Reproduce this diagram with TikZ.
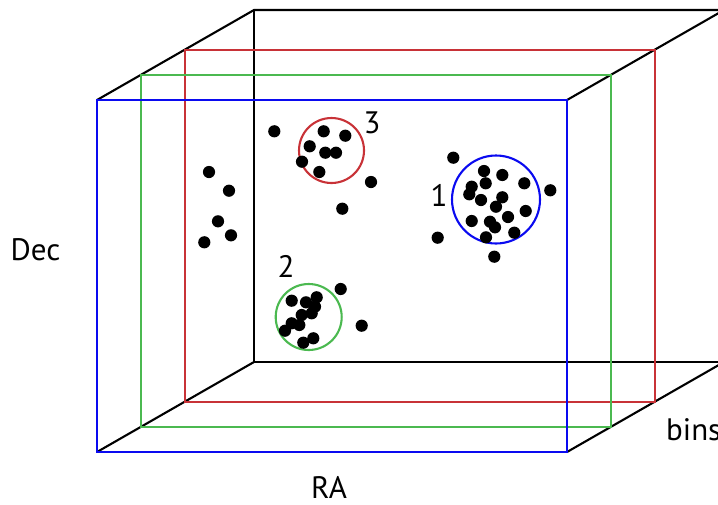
\documentclass[tikz,border=0pt]{standalone}
\usepackage{fontspec}
\setmainfont{PT Sans}
\definecolor{fblue}{RGB}{10,10,240}
\definecolor{fred}{RGB}{200,50,55}
\definecolor{fgreen}{RGB}{75,185,80}
\tikzset{
  edge/.style={line width=2.1pt, line join=miter},
  frame/.style={line width=2.1pt},
  lab/.style={font=\fontsize{31}{33}\selectfont, inner sep=0pt, text=black},
  ring/.style={circle, line width=2.1pt, inner sep=0pt},
}
\newcommand{\dotat}[2]{\fill (#1,#2) circle (6.1);}
\begin{document}
\begin{tikzpicture}[x=1pt,y=-1pt]
\useasboundingbox (0,0) rectangle (718,504);
\clip (0,0) rectangle (718,504);
% corners
\coordinate (FTL) at (97,100);
\coordinate (FTR) at (567,100);
\coordinate (FBR) at (567,452);
\coordinate (FBL) at (97,452);
\coordinate (BTL) at (254,10);
\coordinate (BTR) at (724,10);
\coordinate (BBR) at (724,362);
\coordinate (BBL) at (254,362);
% back box
\draw[edge] (FTL) -- (BTL) -- (BTR);
\draw[edge] (FTR) -- (BTR);
\draw[edge] (BTL) -- (BBL) -- (BBR);
\draw[edge] (FBL) -- (BBL);
\draw[edge] (FBR) -- (BBR);
% slices
\draw[frame, fred] (185,50) rectangle (655,402);
\draw[frame, fgreen] (141,75) rectangle (611,427);
\draw[frame, fblue] (FTL) rectangle (FBR);
% circles
\node[ring, draw=fred, minimum size=65pt] (c3) at (331.5,150.5) {};
\node[ring, draw=fblue, minimum size=88pt] (c1) at (496,199.5) {};
\node[ring, draw=fgreen, minimum size=66pt] (c2) at (308.7,317) {};
% labels
\node[lab, anchor=base] (n1) at (439,206.7) {1};
\node[lab, anchor=base] (n2) at (286,277) {2};
\node[lab, anchor=base] (n3) at (372,133) {3};
\node[lab, anchor=base] (dec) at (35.5,260) {Dec};
\node[lab, anchor=base] (ra) at (329,498) {RA};
\node[lab, anchor=base west] (bins) at (666,440) {bins};
% dots: cluster 3 and nearby
\dotat{274.3}{131.3}
\dotat{323.7}{131.3}
\dotat{345.3}{135.7}
\dotat{309.7}{146.3}
\dotat{325.3}{152.7}
\dotat{336}{152.7}
\dotat{302}{161.7}
\dotat{319.3}{172}
\dotat{371}{182}
\dotat{342.3}{208.7}
% left group
\dotat{209}{172}
\dotat{229}{190.7}
\dotat{218}{221.3}
\dotat{231}{235.3}
\dotat{204.3}{242.3}
% cluster 1
\dotat{453.3}{157.7}
\dotat{484}{171}
\dotat{502.3}{175}
\dotat{471.7}{186.7}
\dotat{485.7}{183.3}
\dotat{524.3}{183.3}
\dotat{550.3}{190.3}
\dotat{469.3}{194.3}
\dotat{481}{200}
\dotat{502.3}{197.3}
\dotat{496}{206.7}
\dotat{525.7}{211}
\dotat{508}{217}
\dotat{471.7}{221}
\dotat{490}{221.7}
\dotat{495}{227.3}
\dotat{514.3}{232.7}
\dotat{486}{237.3}
\dotat{437.7}{237.7}
\dotat{494.3}{256.7}
% cluster 2
\dotat{340.7}{289}
\dotat{291.7}{300.7}
\dotat{316.7}{297.3}
\dotat{306}{302.3}
\dotat{315}{306.7}
\dotat{311.7}{313.3}
\dotat{301.7}{315}
\dotat{291.7}{323.3}
\dotat{299.3}{325}
\dotat{285}{330.7}
\dotat{361.7}{325.7}
\dotat{313.3}{338.3}
\dotat{303.3}{342.7}
\end{tikzpicture}
\end{document}
